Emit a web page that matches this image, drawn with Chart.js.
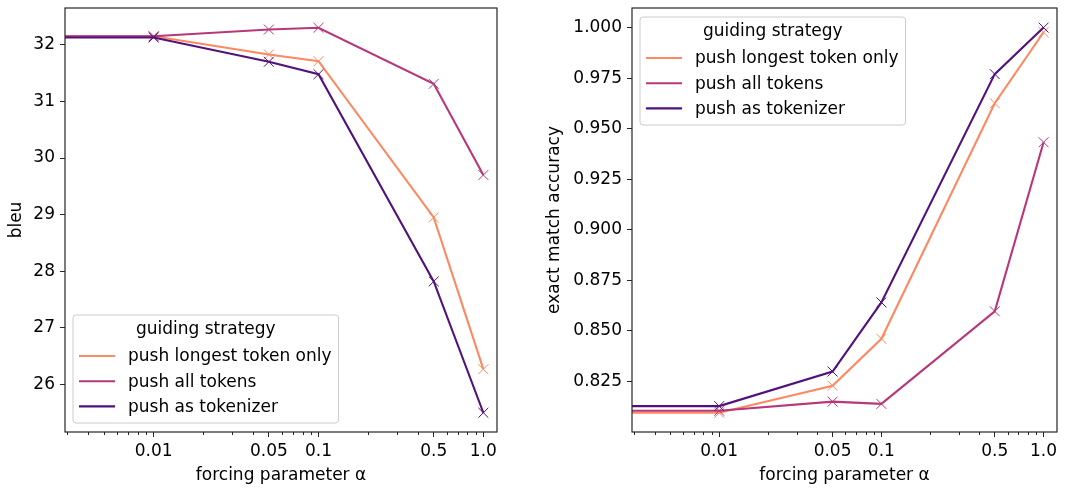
<!DOCTYPE html>
<html lang="en">
<head>
<meta charset="UTF-8">
<title>Forcing parameter vs bleu / exact match</title>
<script src="https://cdn.jsdelivr.net/npm/chart.js"></script>
<style>
  body { margin: 0; background: #fff; }
  #leftChart { position: absolute; left: 0; top: 0; }
  #rightChart { position: absolute; left: 540px; top: 0; }
</style>
</head>
<body>
<canvas id="leftChart" width="540" height="489"></canvas>
<canvas id="rightChart" width="549" height="489"></canvas>
<script>
// forcing parameter values (first one is the no-forcing baseline, it sits left of the visible axis)
const alphas = [0.001, 0.01, 0.05, 0.1, 0.5, 1.0];
const xTicks = [0.01, 0.05, 0.1, 0.5, 1.0];
const xTickLabels = ['0.01', '0.05', '0.1', '0.5', '1.0'];
const minorTicks = [0.003, 0.004, 0.005, 0.006, 0.007, 0.008, 0.009,
                    0.02, 0.03, 0.04, 0.06, 0.07, 0.08, 0.09,
                    0.2, 0.3, 0.4, 0.6, 0.7, 0.8, 0.9];

const seriesNames = ['push longest token only', 'push all tokens', 'push as tokenizer'];
const seriesColors = ['#fc8961', '#b73779', '#51127c'];

// bleu
const bleuLongest   = [32.15, 32.15, 31.83, 31.71, 28.95, 26.27];
const bleuAll       = [32.15, 32.15, 32.27, 32.30, 31.31, 29.70];
const bleuTokenizer = [32.13, 32.13, 31.70, 31.48, 27.82, 25.50];
const bleuTicks = [26, 27, 28, 29, 30, 31, 32];

// exact match accuracy
const emLongest   = [0.8095, 0.8095, 0.8229, 0.8461, 0.9626, 0.9977];
const emAll       = [0.8105, 0.8105, 0.8150, 0.8139, 0.8597, 0.9433];
const emTokenizer = [0.8128, 0.8128, 0.8299, 0.8641, 0.9770, 1.0000];
const emTicks = [0.825, 0.850, 0.875, 0.900, 0.925, 0.950, 0.975, 1.000];

const FONT = '"DejaVu Sans", sans-serif';
const FS = 17;
Chart.defaults.font.family = FONT;
Chart.defaults.font.size = FS;
Chart.defaults.color = '#000';

function makeDatasets(values) {
    return values.map((v, i) => ({
        label: seriesNames[i],
        data: alphas.map((a, j) => ({ x: a, y: v[j] })),
        borderColor: seriesColors[i],
        borderWidth: 2.1,
        pointStyle: 'crossRot',
        pointRadius: 7,
        pointBorderWidth: 1,
        pointBorderColor: seriesColors[i],
        pointBackgroundColor: seriesColors[i],
        tension: 0,
        clip: 0,
        order: 3 - i // purple on top, like matplotlib
    }));
}

// box around the plot, minor log ticks and the matplotlib style legend
const framePlugin = {
    id: 'framePlugin',
    afterDraw(chart, args, opts) {
        const ctx = chart.ctx;
        const a = chart.chartArea;
        const xs = chart.scales.x;
        ctx.save();
        ctx.strokeStyle = '#262626';
        ctx.lineWidth = 1;
        ctx.beginPath();
        minorTicks.forEach(v => {
            const px = Math.round(xs.getPixelForValue(v)) + 0.5;
            ctx.moveTo(px, a.bottom);
            ctx.lineTo(px, a.bottom + 3);
        });
        ctx.stroke();
        ctx.lineWidth = 1.2;
        ctx.strokeRect(a.left, a.top, a.right - a.left, a.bottom - a.top);

        // legend
        ctx.font = FS + 'px ' + FONT;
        const labels = chart.data.datasets.map(d => d.label);
        const tw = Math.max(...labels.map(l => ctx.measureText(l).width));
        const w = 55 + tw + 7;
        const h = 108;
        const x0 = a.left + 8;
        const y0 = opts.corner === 'lower' ? a.bottom - 9 - h : a.top + 9;
        const r = 3;
        ctx.beginPath();
        ctx.moveTo(x0 + r, y0);
        ctx.lineTo(x0 + w - r, y0);
        ctx.arcTo(x0 + w, y0, x0 + w, y0 + r, r);
        ctx.lineTo(x0 + w, y0 + h - r);
        ctx.arcTo(x0 + w, y0 + h, x0 + w - r, y0 + h, r);
        ctx.lineTo(x0 + r, y0 + h);
        ctx.arcTo(x0, y0 + h, x0, y0 + h - r, r);
        ctx.lineTo(x0, y0 + r);
        ctx.arcTo(x0, y0, x0 + r, y0, r);
        ctx.closePath();
        ctx.fillStyle = 'rgba(255,255,255,0.8)';
        ctx.fill();
        ctx.strokeStyle = '#cccccc';
        ctx.lineWidth = 1;
        ctx.stroke();

        ctx.fillStyle = '#000';
        ctx.textBaseline = 'middle';
        ctx.textAlign = 'center';
        ctx.fillText('guiding strategy', x0 + w / 2, y0 + 15);
        ctx.textAlign = 'left';
        chart.data.datasets.forEach((d, i) => {
            const yy = y0 + 41 + i * 25.2;
            ctx.strokeStyle = d.borderColor;
            ctx.lineWidth = 2.1;
            ctx.beginPath();
            ctx.moveTo(x0 + 6, yy);
            ctx.lineTo(x0 + 42, yy);
            ctx.stroke();
            ctx.fillText(d.label, x0 + 55, yy + 1);
        });
        ctx.restore();
    }
};

function makeChart(id, values, yMin, yMax, yTicks, yFmt, yTitle, yWidth, yTitlePad, padRight, corner) {
    return new Chart(document.getElementById(id), {
        type: 'line',
        data: { datasets: makeDatasets(values) },
        plugins: [framePlugin],
        options: {
            responsive: false,
            animation: false,
            events: [],
            layout: { padding: { left: 0, right: padRight, top: 4, bottom: 0 } },
            plugins: {
                legend: { display: false },
                tooltip: { enabled: false },
                framePlugin: { corner: corner }
            },
            scales: {
                x: {
                    type: 'logarithmic',
                    min: 0.0029,
                    max: 1.21,
                    border: { display: false },
                    grid: { drawOnChartArea: false, drawTicks: true, tickLength: 5, tickColor: '#262626' },
                    ticks: {
                        padding: 4,
                        maxRotation: 0,
                        autoSkip: false,
                        callback: (v, i) => xTickLabels[i]
                    },
                    afterBuildTicks: s => { s.ticks = xTicks.map(v => ({ value: v })); },
                    afterFit: s => { s.height = 57; s.paddingLeft = 0; s.paddingRight = 0; },
                    title: { display: true, text: 'forcing parameter α', padding: { top: 0, bottom: 3 } }
                },
                y: {
                    min: yMin,
                    max: yMax,
                    border: { display: false },
                    grid: { drawOnChartArea: false, drawTicks: true, tickLength: 5, tickColor: '#262626' },
                    ticks: { padding: 5, callback: v => yFmt(v) },
                    afterBuildTicks: s => { s.ticks = yTicks.map(v => ({ value: v })); },
                    afterFit: s => { s.width = yWidth; s.paddingTop = 0; s.paddingBottom = 0; },
                    title: { display: true, text: yTitle, padding: { top: yTitlePad, bottom: 0 } }
                }
            }
        }
    });
}

makeChart('leftChart', [bleuLongest, bleuAll, bleuTokenizer], 25.16, 32.65, bleuTicks,
    v => String(v), 'bleu', 65, 6, 43, 'lower');
makeChart('rightChart', [emLongest, emAll, emTokenizer], 0.80, 1.0097, emTicks,
    v => v.toFixed(3), 'exact match accuracy', 92, 4, 32, 'upper');
</script>
</body>
</html>
